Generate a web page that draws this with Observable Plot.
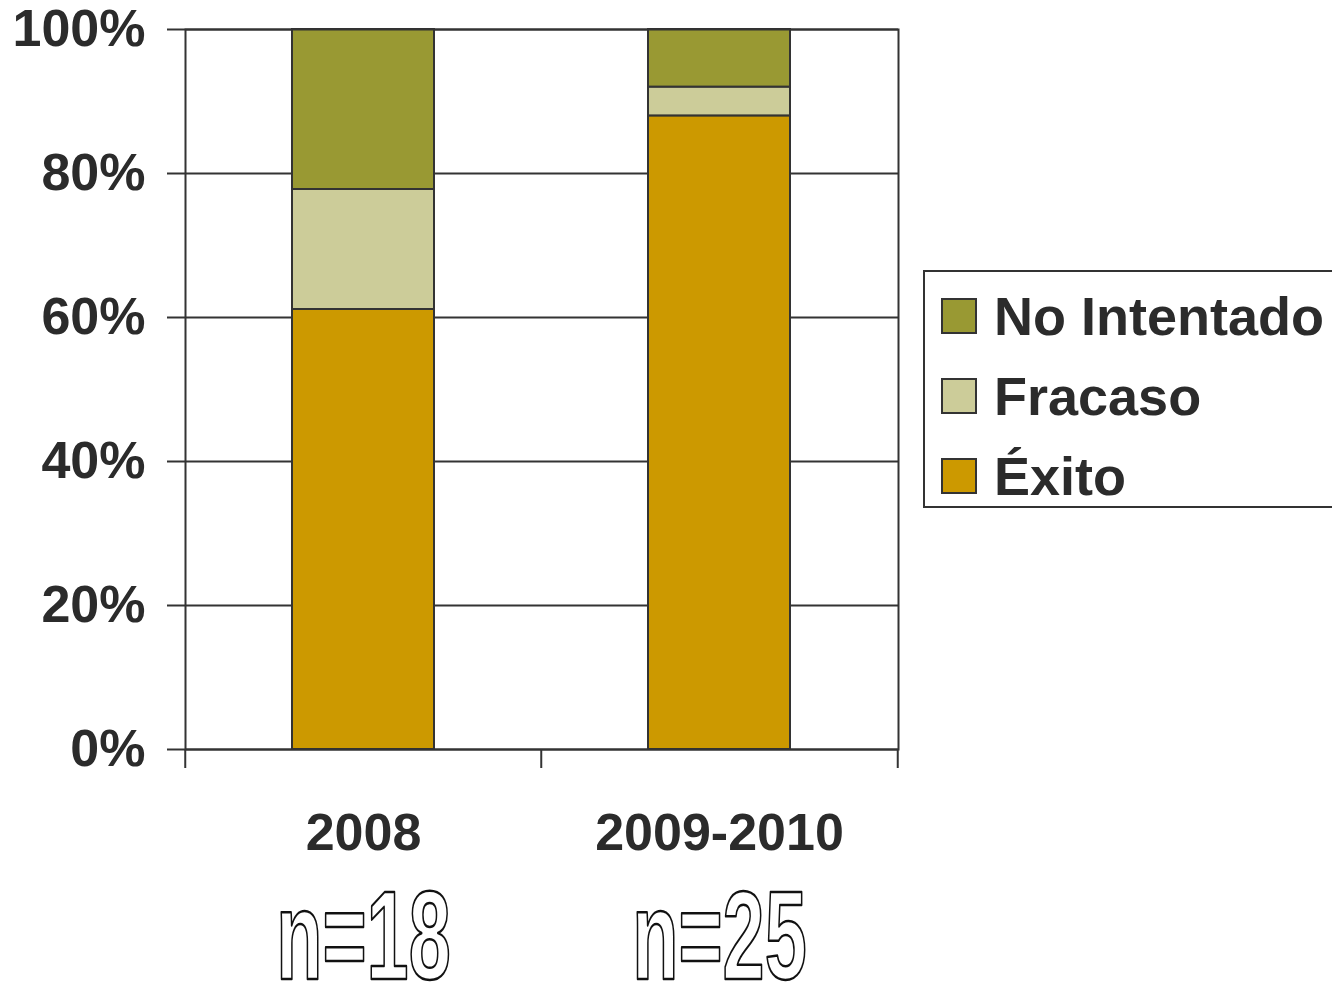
<!DOCTYPE html>
<html lang="es">
<head>
<meta charset="utf-8">
<title>Resultados 2008 vs 2009-2010</title>
<script src="https://cdn.jsdelivr.net/npm/d3@7"></script>
<script src="https://cdn.jsdelivr.net/npm/@observablehq/plot@0.6"></script>
<style>
  html, body { margin: 0; padding: 0; background: #fff; }
  #wrap { position: relative; width: 1332px; height: 982px; overflow: hidden; }
  #legend {
    position: absolute; left: 923px; top: 270px; width: 440px; height: 234px;
    border: 2px solid #333; box-sizing: content-box; background: #fff;
    font-family: "Liberation Sans", Arial, sans-serif; font-weight: bold;
    font-size: 54px; color: #2b2b2b;
  }
  .item { position: absolute; left: 16px; height: 60px; display: flex; align-items: center; }
  .sw { width: 32px; height: 32px; border: 2px solid #333; margin-right: 17px; box-sizing: content-box; }
</style>
</head>
<body>
<div id="wrap"></div>
<script>
// Categories and sample sizes
const periods = ["2008", "2009-2010"];
const sampleSizes = [18, 25];

// Outcome counts per period (stacked bottom to top: Éxito, Fracaso, No Intentado)
const outcomes = ["Éxito", "Fracaso", "No Intentado"];
const exito = [11, 22];
const fracaso = [3, 1];
const noIntentado = [4, 2];

const outcomeColors = ["#cc9900", "#cccc99", "#999933"];
const yTicks = [0, 0.2, 0.4, 0.6, 0.8, 1];

const rows = [];
periods.forEach((p, i) => {
  rows.push({period: p, outcome: outcomes[0], count: exito[i]});
  rows.push({period: p, outcome: outcomes[1], count: fracaso[i]});
  rows.push({period: p, outcome: outcomes[2], count: noIntentado[i]});
});
const sizes = periods.map((p, i) => ({period: p, label: `n=${sampleSizes[i]}`}));

const W = 1332, H = 982;
const mL = 185, mR = 434, mT = 29, mB = 233;
const padInner = 0.6, padOuter = 0.3;
const step = (W - mL - mR) / (periods.length - padInner + 2 * padOuter);
const ink = "#333";
const textColor = "#2b2b2b";
const font = "'Liberation Sans', Arial, sans-serif";

const chart = Plot.plot({
  width: W,
  height: H,
  marginLeft: mL,
  marginRight: mR,
  marginTop: mT,
  marginBottom: mB,
  style: {fontFamily: font, color: textColor, background: "#fff", overflow: "visible"},
  x: {domain: periods, paddingInner: padInner, paddingOuter: padOuter, align: 0.5},
  y: {domain: [0, 1]},
  color: {domain: outcomes, range: outcomeColors},
  marks: [
    Plot.ruleY(yTicks, {stroke: ink, strokeWidth: 2}),
    Plot.barY(rows, Plot.stackY({
      x: "period", y: "count", fill: "outcome",
      order: outcomes, offset: "normalize",
      stroke: ink, strokeWidth: 2
    })),
    Plot.frame({stroke: ink, strokeWidth: 2}),
    // category boundary ticks below the baseline
    Plot.ruleX(periods, {x: d => d, y1: 0, y2: 0, dx: -step / 2, insetBottom: -19, stroke: ink, strokeWidth: 2}),
    Plot.ruleX(periods.slice(-1), {x: d => d, y1: 0, y2: 0, dx: step / 2, insetBottom: -19, stroke: ink, strokeWidth: 2}),
    Plot.axisY({
      ticks: yTicks, tickFormat: d3.format(".0%"), tickSize: 18, tickPadding: 22,
      stroke: ink, strokeWidth: 2, strokeOpacity: 1,
      fontSize: 52, fontWeight: "bold", fill: textColor, label: null
    }),
    Plot.axisX({
      tickSize: 0, tickPadding: 64,
      fontSize: 52, fontWeight: "bold", fill: textColor, label: null
    }),
    Plot.text(sizes, {
      x: "period", y: 0, text: "label", dy: 189, lineAnchor: "middle",
      fontSize: 126, fontWeight: "bold", fill: "#fff", stroke: "#111",
      strokeWidth: 2.5, paintOrder: "normal"
    })
  ]
});

// condense the sample-size labels horizontally
chart.querySelectorAll('g[aria-label="text"] text').forEach(t => {
  const tr = t.getAttribute("transform") || "";
  t.setAttribute("transform", `${tr} scale(0.6,1)`);
  t.setAttribute("paint-order", "normal");
});

const wrap = document.getElementById("wrap");
wrap.appendChild(chart);

// legend, top entry first
const legend = document.createElement("div");
legend.id = "legend";
const legendOrder = [2, 1, 0];
legendOrder.forEach((k, r) => {
  const item = document.createElement("div");
  item.className = "item";
  item.style.top = (14 + r * 80) + "px";
  const sw = document.createElement("div");
  sw.className = "sw";
  sw.style.background = outcomeColors[k];
  const label = document.createElement("span");
  label.textContent = outcomes[k];
  item.appendChild(sw);
  item.appendChild(label);
  legend.appendChild(item);
});
wrap.appendChild(legend);
</script>
</body>
</html>
